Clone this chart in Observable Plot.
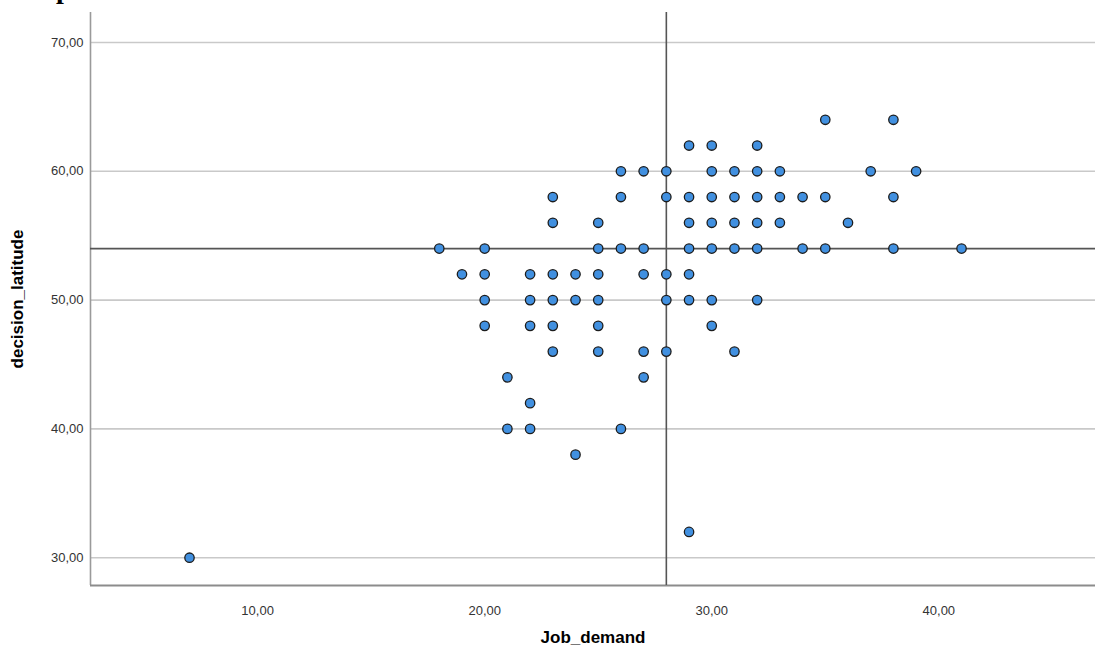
<!DOCTYPE html>
<html>
<head>
<meta charset="utf-8">
<script src="https://cdn.jsdelivr.net/npm/d3@7"></script>
<script src="https://cdn.jsdelivr.net/npm/@observablehq/plot@0.6"></script>
<style>
  body { margin: 0; background: #fff; }
  #wrap { position: relative; width: 1095px; height: 650px; overflow: hidden; }
  #head { position: absolute; left: 56px; top: -25px; font: bold 28px "Liberation Serif", serif; color: #000; line-height: 28px; }
  #wrap svg g[aria-label="x-axis label"] text,
  #wrap svg g[aria-label="y-axis label"] text { font-size: 17px; font-weight: bold; fill: #000; }
</style>
</head>
<body>
<div id="wrap"><div id="head">p</div></div>
<script>
// Observations: Job_demand (x) and decision_latitude (y), one entry per respondent
const jobDemand = [
  35, 38,
  29, 30, 32,
  26, 27, 28, 30, 31, 32, 33, 37, 39,
  23, 26, 28, 29, 30, 31, 32, 33, 34, 35, 38,
  23, 25, 29, 30, 31, 32, 33, 36,
  18, 20, 25, 26, 27, 29, 30, 31, 32, 34, 35, 38, 41,
  19, 20, 22, 23, 24, 25, 27, 28, 29,
  20, 22, 23, 24, 25, 28, 29, 30, 32,
  20, 22, 23, 25, 30,
  23, 25, 27, 28, 31,
  21, 27,
  22,
  21, 22, 26,
  24,
  29,
  7
];
const decisionLatitude = [
  64, 64,
  62, 62, 62,
  60, 60, 60, 60, 60, 60, 60, 60, 60,
  58, 58, 58, 58, 58, 58, 58, 58, 58, 58, 58,
  56, 56, 56, 56, 56, 56, 56, 56,
  54, 54, 54, 54, 54, 54, 54, 54, 54, 54, 54, 54, 54,
  52, 52, 52, 52, 52, 52, 52, 52, 52,
  50, 50, 50, 50, 50, 50, 50, 50, 50,
  48, 48, 48, 48, 48,
  46, 46, 46, 46, 46,
  44, 44,
  42,
  40, 40, 40,
  38,
  32,
  30
];

// Axis ticks and reference lines (means drawn as crosshair)
const xTicks = [10, 20, 30, 40];
const yTicks = [30, 40, 50, 60, 70];
const xRef = [28];
const yRef = [54];
const xDomain = [2.64, 46.9];
const yDomain = [27.84, 72.33];

const data = jobDemand.map((x, i) => ({ Job_demand: x, decision_latitude: decisionLatitude[i] }));
const fmt = d => d3.format(".2f")(d).replace(".", ",");

const chart = Plot.plot({
  width: 1095,
  height: 650,
  marginLeft: 90,
  marginRight: 0,
  marginTop: 12,
  marginBottom: 65,
  style: { fontFamily: "'Liberation Sans', Arial, sans-serif", fontSize: "13px", color: "#333", background: "#fff" },
  x: { domain: xDomain },
  y: { domain: yDomain },
  marks: [
    Plot.ruleY(yTicks, { stroke: "#c9c9c9", strokeWidth: 1.6 }),
    Plot.ruleX([xDomain[0]], { stroke: "#9a9a9a", strokeWidth: 1.6 }),
    Plot.ruleY([yDomain[0]], { stroke: "#8c8c8c", strokeWidth: 1.8 }),
    Plot.ruleX(xRef, { stroke: "#555", strokeWidth: 1.6 }),
    Plot.ruleY(yRef, { stroke: "#555", strokeWidth: 1.6 }),
    Plot.axisX({ ticks: xTicks, tickFormat: fmt, tickSize: 0, tickPadding: 20, label: "Job_demand", labelAnchor: "center", labelArrow: "none", labelOffset: 57, fill: "#333" }),
    Plot.axisY({ ticks: yTicks, tickFormat: fmt, tickSize: 0, tickPadding: 7, label: "decision_latitude", labelAnchor: "center", labelArrow: "none", labelOffset: 80, fill: "#333" }),
    Plot.dot(data, { x: "Job_demand", y: "decision_latitude", r: 4.7, fill: "#4190e0", stroke: "#1c1c1c", strokeWidth: 1.3 })
  ]
});
document.getElementById("wrap").prepend(chart);
</script>
</body>
</html>
